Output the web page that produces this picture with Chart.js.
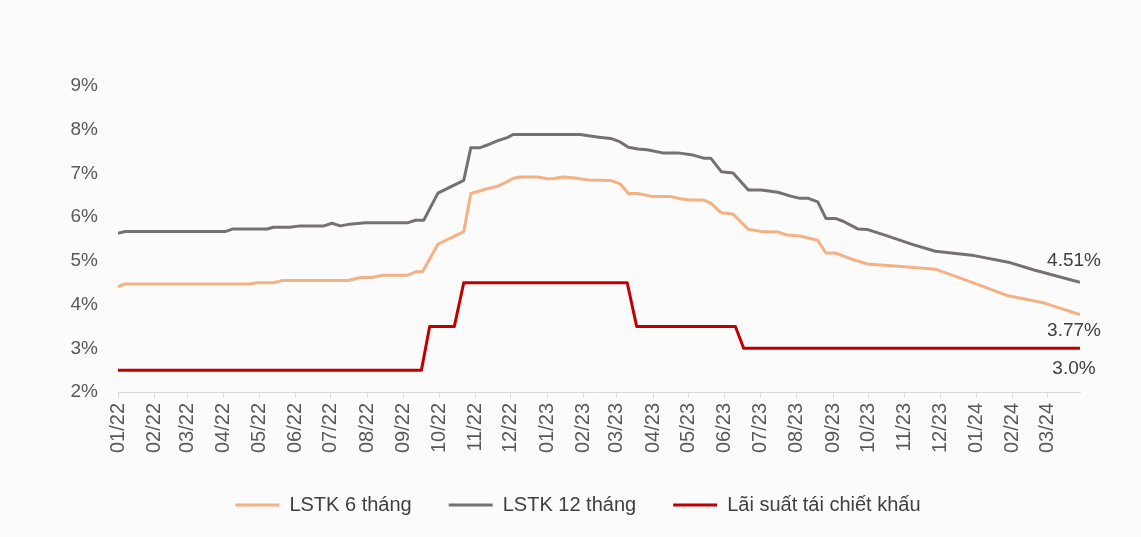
<!DOCTYPE html>
<html>
<head>
<meta charset="utf-8">
<script src="https://cdn.jsdelivr.net/npm/chart.js@4.4.1/dist/chart.umd.min.js"></script>
<style>
  html, body { margin: 0; padding: 0; background: #fbfbfb; }
  #wrap { width: 1141px; height: 537px; }
</style>
</head>
<body>
<div id="wrap"><canvas id="chartCanvas" width="1141" height="537"></canvas></div>
<script>
// month ticks on the x axis
const monthLabels = ["01/22","02/22","03/22","04/22","05/22","06/22","07/22","08/22","09/22","10/22","11/22","12/22",
  "01/23","02/23","03/23","04/23","05/23","06/23","07/23","08/23","09/23","10/23","11/23","12/23",
  "01/24","02/24","03/24"];
const yTicks = [2, 3, 4, 5, 6, 7, 8, 9];

const seriesNames = ["LSTK 6 tháng", "LSTK 12 tháng", "Lãi suất tái chiết khấu"];
const endLabels = ["3.77%", "4.51%", "3.0%"];

// LSTK 6 thang
const dates6 = ["2022-01-01","2022-01-07","2022-04-23","2022-04-29","2022-05-13","2022-05-21","2022-07-16","2022-07-26",
  "2022-08-05","2022-08-14","2022-09-04","2022-09-11","2022-09-17","2022-09-30","2022-10-22","2022-10-28","2022-11-11",
  "2022-11-20","2022-11-25","2022-12-03","2022-12-09","2022-12-24","2023-01-01","2023-01-06","2023-01-14","2023-01-23",
  "2023-02-05","2023-02-24","2023-03-04","2023-03-11","2023-03-19","2023-04-01","2023-04-16","2023-04-24","2023-05-03",
  "2023-05-14","2023-05-20","2023-05-29","2023-06-08","2023-06-21","2023-07-02","2023-07-16","2023-07-24","2023-08-04",
  "2023-08-19","2023-08-26","2023-09-03","2023-09-18","2023-09-30","2023-10-29","2023-11-27","2023-12-30","2024-01-28",
  "2024-02-27","2024-03-29"];
const lstk6 = [4.41,4.47,4.47,4.50,4.50,4.55,4.55,4.62,
  4.62,4.67,4.67,4.75,4.75,5.38,5.67,6.54,6.65,
  6.71,6.77,6.89,6.92,6.92,6.88,6.88,6.92,6.90,
  6.85,6.84,6.76,6.54,6.54,6.47,6.47,6.42,6.39,
  6.39,6.32,6.10,6.07,5.72,5.67,5.66,5.59,5.57,
  5.47,5.18,5.18,5.03,4.93,4.87,4.81,4.49,4.20,
  4.04,3.77];

// LSTK 12 thang
const dates12 = ["2022-01-01","2022-01-07","2022-04-02","2022-04-09","2022-05-08","2022-05-13","2022-05-27","2022-06-05",
  "2022-06-25","2022-07-02","2022-07-09","2022-07-17","2022-07-30","2022-09-04","2022-09-11","2022-09-18","2022-09-30",
  "2022-10-22","2022-10-28","2022-11-05","2022-11-11","2022-11-20","2022-11-28","2022-12-03","2023-01-29","2023-02-05",
  "2023-02-14","2023-02-24","2023-03-04","2023-03-11","2023-03-19","2023-03-27","2023-04-09","2023-04-22","2023-05-05",
  "2023-05-14","2023-05-20","2023-05-29","2023-06-08","2023-06-21","2023-07-02","2023-07-16","2023-07-27","2023-08-04",
  "2023-08-11","2023-08-19","2023-08-26","2023-09-03","2023-09-10","2023-09-22","2023-09-30","2023-10-17","2023-11-08",
  "2023-11-27","2023-12-30","2024-01-28","2024-02-19","2024-03-29"];
const lstk12 = [5.63,5.67,5.67,5.73,5.73,5.77,5.77,5.80,
  5.80,5.86,5.80,5.84,5.87,5.87,5.93,5.93,6.55,
  6.84,7.59,7.59,7.65,7.75,7.82,7.89,7.89,7.86,
  7.83,7.80,7.72,7.60,7.56,7.54,7.47,7.47,7.42,
  7.35,7.35,7.04,7.01,6.62,6.62,6.57,6.48,6.43,
  6.43,6.35,5.97,5.97,5.90,5.73,5.72,5.57,5.37,
  5.22,5.12,4.97,4.79,4.51];

// Lai suat tai chiet khau
const datesRate = ["2022-01-01","2022-09-16","2022-09-23","2022-10-14","2022-10-22","2023-03-10","2023-03-18",
  "2023-06-10","2023-06-17","2024-03-29"];
const rate = [2.5,2.5,3.5,3.5,4.5,4.5,3.5,3.5,3.0,3.0];

const colors = ["#f4b183", "#767171", "#c00000"];

const FONT = "'Liberation Sans', Arial, sans-serif";
const base = Date.UTC(2022, 0, 1);
function dayOf(s) {
  const p = s.split("-").map(Number);
  return (Date.UTC(p[0], p[1] - 1, p[2]) - base) / 864e5;
}
function monthDay(lbl) {
  const p = lbl.split("/").map(Number);
  return (Date.UTC(2000 + p[1], p[0] - 1, 1) - base) / 864e5;
}
function pts(dates, vals) {
  return dates.map((d, i) => ({ x: dayOf(d), y: vals[i] }));
}
const monthPos = monthLabels.map(monthDay);

const endLabelPlugin = {
  id: "endLabels",
  afterDatasetsDraw(chart) {
    const ctx = chart.ctx;
    const offsets = [16, -22, 20];
    ctx.save();
    ctx.font = "19px " + FONT;
    ctx.fillStyle = "#404040";
    ctx.textAlign = "center";
    ctx.textBaseline = "middle";
    chart.data.datasets.forEach((ds, i) => {
      const meta = chart.getDatasetMeta(i);
      const p = meta.data[meta.data.length - 1];
      ctx.fillText(endLabels[i], p.x - 6, p.y + offsets[i]);
    });
    ctx.restore();
  }
};

// nudge the legend so it sits where the original has it
const legendShift = {
  id: "legendShift",
  afterLayout(chart) {
    if (chart.legend) {
      chart.legend.left += 38;
      chart.legend.right += 38;
    }
  }
};

new Chart(document.getElementById("chartCanvas"), {
  type: "line",
  data: {
    datasets: [
      { label: seriesNames[0], data: pts(dates6, lstk6), borderColor: colors[0], backgroundColor: colors[0], order: 3 },
      { label: seriesNames[1], data: pts(dates12, lstk12), borderColor: colors[1], backgroundColor: colors[1], order: 2 },
      { label: seriesNames[2], data: pts(datesRate, rate), borderColor: colors[2], backgroundColor: colors[2], order: 1 }
    ]
  },
  options: {
    responsive: false,
    animation: false,
    parsing: false,
    elements: {
      line: { borderWidth: 3, tension: 0, borderJoinStyle: "round" },
      point: { radius: 0 }
    },
    layout: { padding: { top: 86, right: 61, left: 0, bottom: 12 } },
    plugins: {
      tooltip: { enabled: false },
      legend: {
        position: "bottom",
        labels: {
          font: { family: FONT, size: 20 },
          color: "#404040",
          boxWidth: 44,
          boxHeight: 3,
          padding: 37,
          sort: (a, b) => a.datasetIndex - b.datasetIndex,
          generateLabels(chart) {
            const items = Chart.defaults.plugins.legend.labels.generateLabels(chart);
            items.forEach(it => { it.fillStyle = it.strokeStyle; it.lineWidth = 0; });
            return items;
          }
        }
      }
    },
    scales: {
      x: {
        type: "linear",
        min: monthPos[0],
        max: dayOf(dates6[dates6.length - 1]),
        afterBuildTicks(scale) {
          scale.ticks = monthPos.map(v => ({ value: v }));
        },
        afterFit(scale) { scale.height = 66; },
        ticks: {
          autoSkip: false,
          minRotation: 90,
          maxRotation: 90,
          padding: 5,
          color: "#595959",
          font: { family: FONT, size: 20 },
          callback(value) {
            const i = monthPos.indexOf(value);
            return i >= 0 ? monthLabels[i] : "";
          }
        },
        grid: { display: true, drawOnChartArea: false, drawTicks: true, tickLength: 6, color: "#d9d9d9" },
        border: { display: true, color: "#d9d9d9", width: 1 }
      },
      y: {
        min: yTicks[0],
        max: yTicks[yTicks.length - 1],
        afterBuildTicks(scale) {
          scale.ticks = yTicks.map(v => ({ value: v }));
        },
        afterFit(scale) { scale.width = 118; },
        ticks: {
          padding: 20,
          color: "#595959",
          font: { family: FONT, size: 19 },
          callback(value) { return value + "%"; }
        },
        grid: { display: false, drawTicks: false },
        border: { display: false }
      }
    }
  },
  plugins: [endLabelPlugin, legendShift]
});
</script>
</body>
</html>
